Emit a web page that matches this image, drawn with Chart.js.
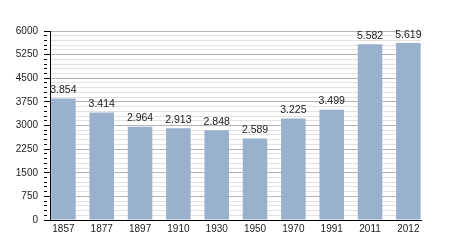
<!DOCTYPE html>
<html>
<head>
<meta charset="utf-8">
<script src="https://cdn.jsdelivr.net/npm/chart.js@4/dist/chart.umd.min.js"></script>
<style>
  body { margin: 0; background: #fff; }
</style>
</head>
<body>
<canvas id="chart" width="450" height="250"></canvas>
<script>
// population by census year
const years = ['1857', '1877', '1897', '1910', '1930', '1950', '1970', '1991', '2011', '2012'];
const population = [3854, 3414, 2964, 2913, 2848, 2589, 3225, 3499, 5582, 5619];

const majorStep = 750;
const minorStep = 150;

function formatNum(v) {
    return String(v).replace(/\B(?=(\d{3})+(?!\d))/g, '.');
}

// numbers above the bars
const valueLabels = {
    id: 'valueLabels',
    afterDatasetsDraw(chart) {
        const ctx = chart.ctx;
        const meta = chart.getDatasetMeta(0);
        ctx.save();
        ctx.font = '10.5px "Liberation Sans", Arial, sans-serif';
        ctx.fillStyle = '#222';
        ctx.textAlign = 'center';
        ctx.textBaseline = 'bottom';
        meta.data.forEach((bar, i) => {
            ctx.fillText(formatNum(population[i]), bar.x, bar.y - 3);
        });
        ctx.restore();
    }
};

Chart.defaults.font.family = '"Liberation Sans", Arial, sans-serif';
Chart.defaults.font.size = 10;
Chart.defaults.color = '#222';

new Chart(document.getElementById('chart').getContext('2d'), {
    type: 'bar',
    data: {
        datasets: [{
            data: population.map((v, i) => ({ x: i, y: v })),
            backgroundColor: '#99b1cc',
            borderWidth: 0,
            categoryPercentage: 1,
            barPercentage: 0.64
        }]
    },
    options: {
        responsive: false,
        animation: false,
        layout: { padding: { left: 0, right: 29, top: 31, bottom: 0 } },
        plugins: {
            legend: { display: false },
            tooltip: { enabled: false }
        },
        scales: {
            x: {
                type: 'linear',
                offset: false,
                min: -0.35,
                max: 9.33,
                afterFit: s => { s.height = 30; },
                grid: { display: false, drawTicks: false, offset: false },
                border: { display: true, color: '#000', width: 1 },
                ticks: {
                    stepSize: 1,
                    includeBounds: false,
                    autoSkip: false,
                    maxRotation: 0,
                    padding: 3,
                    callback: v => years[v]
                }
            },
            y: {
                min: 0,
                max: 6000,
                afterFit: s => { s.width = 50; },
                border: { display: true, color: '#000', width: 1 },
                grid: {
                    color: c => c.tick.value % majorStep === 0 ? '#b4b4b4' : '#e2e2e2',
                    tickColor: '#000',
                    tickLength: 6,
                    tickBorderDash: c => c.tick.value % majorStep === 0 ? [] : [3, 3]
                },
                ticks: {
                    stepSize: minorStep,
                    autoSkip: false,
                    padding: 6,
                    callback: v => v % majorStep === 0 ? v : ''
                }
            }
        }
    },
    plugins: [valueLabels]
});
</script>
</body>
</html>
